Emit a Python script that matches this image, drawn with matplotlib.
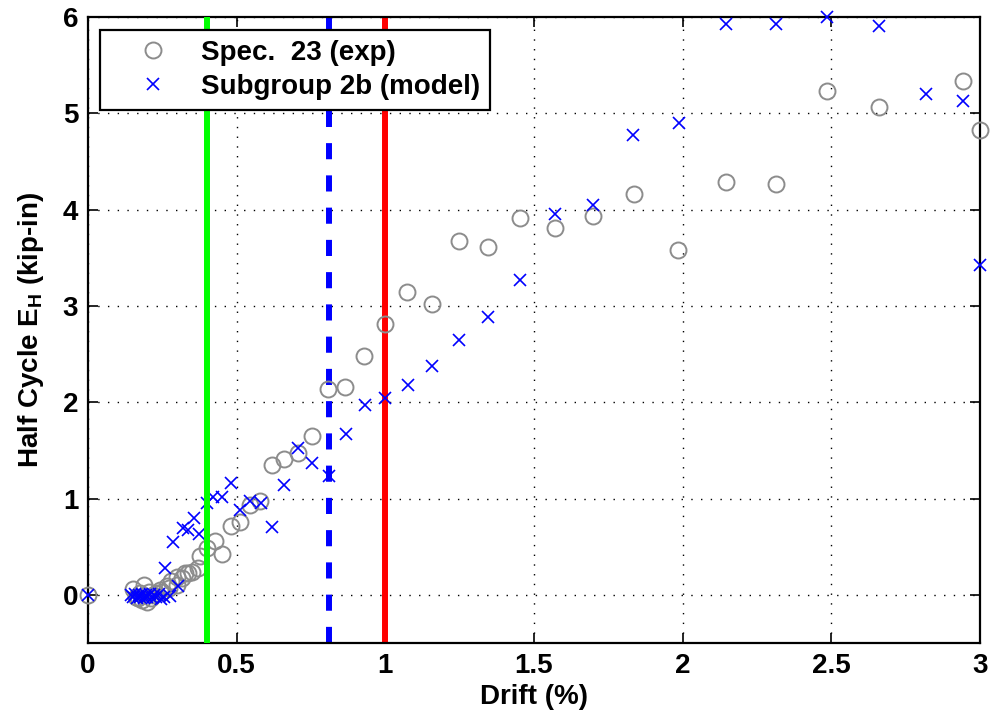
import matplotlib
matplotlib.use("Agg")
import matplotlib.pyplot as plt

# Experimental half-cycle energy (Spec. 23)
exp_drift = [0.0, 0.152, 0.160, 0.169, 0.175, 0.183, 0.190, 0.197, 0.205, 0.213,
             0.220, 0.230, 0.242, 0.250, 0.265, 0.273, 0.280, 0.298, 0.300, 0.315,
             0.326, 0.337, 0.349, 0.371, 0.377, 0.400, 0.427, 0.450, 0.480, 0.512,
             0.545, 0.580, 0.618, 0.660, 0.705, 0.755, 0.807, 0.866, 0.928, 0.999,
             1.074, 1.156, 1.248, 1.345, 1.454, 1.571, 1.697, 1.835, 1.986, 2.145,
             2.313, 2.487, 2.660, 2.944, 2.999]
exp_energy = [0.0, 0.06, -0.02, -0.03, 0.02, -0.05, 0.10, -0.07, 0.03, -0.03,
              0.00, 0.02, 0.05, 0.03, 0.09, 0.07, 0.14, 0.10, 0.19, 0.17,
              0.23, 0.23, 0.24, 0.28, 0.40, 0.49, 0.56, 0.42, 0.71, 0.76,
              0.93, 0.97, 1.35, 1.41, 1.47, 1.65, 2.14, 2.16, 2.48, 2.81,
              3.14, 3.02, 3.67, 3.61, 3.91, 3.81, 3.93, 4.16, 3.58, 4.29,
              4.27, 5.23, 5.07, 5.34, 4.83]

# Model half-cycle energy (Subgroup 2b)
mod_drift = [0.0, 0.145, 0.152, 0.158, 0.164, 0.170, 0.176, 0.182, 0.188, 0.194,
             0.200, 0.207, 0.215, 0.222, 0.230, 0.238, 0.245, 0.255, 0.258, 0.276,
             0.285, 0.304, 0.320, 0.335, 0.356, 0.373, 0.400, 0.422, 0.452, 0.480,
             0.510, 0.545, 0.582, 0.618, 0.659, 0.705, 0.755, 0.810, 0.867, 0.930,
             1.000, 1.075, 1.157, 1.248, 1.345, 1.454, 1.571, 1.697, 1.833, 1.987,
             2.145, 2.313, 2.487, 2.660, 2.818, 2.943, 2.999]
mod_energy = [0.0, 0.00, -0.02, 0.01, -0.03, 0.00, -0.02, 0.01, -0.03, 0.00,
              -0.02, 0.01, -0.03, 0.00, -0.02, 0.01, -0.04, -0.02, 0.28, -0.01,
              0.55, 0.09, 0.69, 0.67, 0.80, 0.63, 0.95, 1.02, 1.02, 1.16,
              0.88, 0.97, 0.95, 0.70, 1.14, 1.52, 1.37, 1.23, 1.67, 1.97,
              2.04, 2.18, 2.38, 2.65, 2.88, 3.27, 3.95, 4.05, 4.77, 4.90,
              5.93, 5.93, 6.00, 5.91, 5.20, 5.13, 3.42]

# Reference drift levels
drift_green = 0.40
drift_blue = 0.81
drift_red = 1.00

x_ticks = [0, 0.5, 1, 1.5, 2, 2.5, 3]
x_ticklabels = ["0", "0.5", "1", "1.5", "2", "2.5", "3"]
y_ticks = [0, 1, 2, 3, 4, 5, 6]

plt.rcParams["font.family"] = ["Liberation Sans", "DejaVu Sans"]
plt.rcParams["font.weight"] = "bold"
plt.rcParams["mathtext.fontset"] = "custom"
plt.rcParams["mathtext.rm"] = "Liberation Sans:bold"
plt.rcParams["mathtext.bf"] = "Liberation Sans:bold"
plt.rcParams["mathtext.it"] = "Liberation Sans:bold"

fig = plt.figure(figsize=(9.92, 7.19), dpi=100)
ax = fig.add_axes([0.0887, 0.1057, 0.8992, 0.8707])

ax.axvline(drift_red, color="#ff0000", lw=4.3, zorder=2)
ax.axvline(drift_blue, color="#0000ff", lw=4.3, ls=(0, (2.7, 2.7)), zorder=2)

ax.plot(exp_drift, exp_energy, ls="none", marker="o", ms=11.5, mfc="none",
        mec="#8c8c8c", mew=1.4, clip_on=False, zorder=3,
        label="Spec.  23 (exp)")
ax.plot(mod_drift, mod_energy, ls="none", marker="x", ms=9, mec="#0000ff",
        mew=1.2, clip_on=False, zorder=3, label="Subgroup 2b (model)")

ax.axvline(drift_green, color="#00ff00", lw=4.3, zorder=4)

ax.set_xlim(0, 3)
ax.set_ylim(-0.5, 6)
ax.set_xticks(x_ticks)
ax.set_xticklabels(x_ticklabels)
ax.set_yticks(y_ticks)
ax.tick_params(direction="in", length=7, width=1.2, top=True, right=True,
               labelsize=20, pad=7)
for lab in ax.get_xticklabels() + ax.get_yticklabels():
    lab.set_fontweight("bold")
ax.grid(True, color="black", ls=(0, (1, 6)), lw=1.0)
for sp in ax.spines.values():
    sp.set_linewidth(1.6)

ax.set_xlabel("Drift (%)", fontsize=20, fontweight="bold", labelpad=4)
ax.set_ylabel(r"Half Cycle E$_\mathbf{H}$ (kip-in)", fontsize=20,
              fontweight="bold", labelpad=12)

leg = ax.legend(loc="upper left", bbox_to_anchor=(0.0135, 0.979),
                borderaxespad=0, frameon=True, fancybox=False,
                framealpha=1, edgecolor="black", handlelength=3.1,
                handletextpad=0.2, borderpad=0.35, labelspacing=0.3,
                prop={"weight": "bold", "size": 20})
leg.get_frame().set_linewidth(1.6)
leg.set_zorder(10)

fig.savefig("out.png", dpi=100)
